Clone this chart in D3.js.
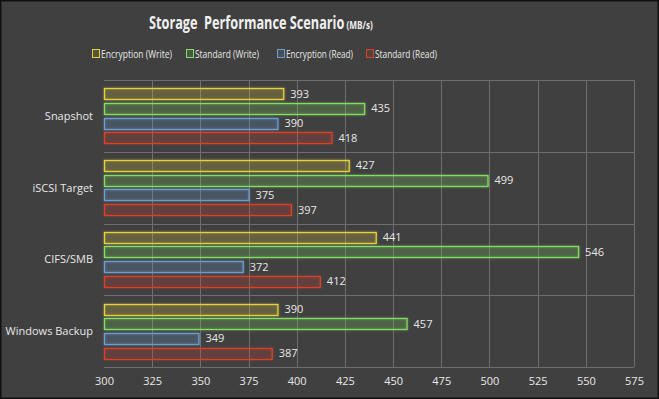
<!DOCTYPE html>
<html>
<head>
<meta charset="utf-8">
<script src="https://cdn.jsdelivr.net/npm/d3@7"></script>
<style>
  html, body { margin: 0; padding: 0; background: #3f3f3f; }
  svg { display: block; }
  text { font-family: "Open Sans", "DejaVu Sans", sans-serif; }
</style>
</head>
<body>
<div id="chart"></div>
<script>
// Data
const categories = ["Snapshot", "iSCSI Target", "CIFS/SMB", "Windows Backup"];
const seriesNames = ["Encryption (Write)", "Standard (Write)", "Encryption (Read)", "Standard (Read)"];
const encWrite = [393, 427, 441, 390];
const stdWrite = [435, 499, 546, 457];
const encRead = [390, 375, 372, 349];
const stdRead = [418, 397, 412, 387];
const xTicks = [300, 325, 350, 375, 400, 425, 450, 475, 500, 525, 550, 575];

const seriesColors = ["#e6d33c", "#82e060", "#6a9fd6", "#d8432c"];
const seriesValues = [encWrite, stdWrite, encRead, stdRead];

const W = 659, H = 399;
const plot = { left: 104, right: 634, top: 80, bottom: 367 };

const svg = d3.select("#chart").append("svg")
  .attr("width", W)
  .attr("height", H);

// glow filter
const defs = svg.append("defs");
const glow = defs.append("filter").attr("id", "glow")
  .attr("x", "-10%").attr("y", "-60%").attr("width", "120%").attr("height", "220%");
glow.append("feGaussianBlur").attr("in", "SourceGraphic").attr("stdDeviation", 1.3).attr("result", "blur");
glow.append("feComponentTransfer").attr("in", "blur").attr("result", "soft")
  .append("feFuncA").attr("type", "linear").attr("slope", 0.6);
const merge = glow.append("feMerge");
merge.append("feMergeNode").attr("in", "soft");
merge.append("feMergeNode").attr("in", "SourceGraphic");

// background + frame
svg.append("rect")
  .attr("x", 0.5).attr("y", 0.5)
  .attr("width", W - 1).attr("height", H - 1)
  .attr("fill", "#404040")
  .attr("stroke", "#111").attr("stroke-width", 2);

// Scales
const x = d3.scaleLinear().domain([300, 575]).range([plot.left, plot.right]);
const y = d3.scaleBand().domain(categories).range([plot.top, plot.bottom]);
const yInner = d3.scaleBand().domain(seriesNames)
  .range([0, y.bandwidth()]).paddingInner(0.25).paddingOuter(0.56);

// Grid
const grid = svg.append("g").attr("stroke", "#6e6e6e").attr("stroke-width", 1);
grid.selectAll("line.v")
  .data(xTicks.slice(1))
  .join("line")
  .attr("class", "v")
  .attr("x1", d => Math.round(x(d)) + 0.5).attr("x2", d => Math.round(x(d)) + 0.5)
  .attr("y1", plot.top).attr("y2", plot.bottom);
grid.selectAll("line.h")
  .data(categories.concat(["end"]))
  .join("line")
  .attr("class", "h")
  .attr("x1", plot.left).attr("x2", plot.right)
  .attr("y1", (d, i) => Math.round(i < categories.length ? y(d) : plot.bottom) + 0.5)
  .attr("y2", (d, i) => Math.round(i < categories.length ? y(d) : plot.bottom) + 0.5);

// Bars
const rows = [];
categories.forEach((c, ci) => {
  seriesNames.forEach((s, si) => {
    rows.push({ cat: c, series: s, value: seriesValues[si][ci], color: seriesColors[si] });
  });
});

const barG = svg.append("g");
barG.selectAll("rect")
  .data(rows)
  .join("rect")
  .attr("x", x(300) + 0.5)
  .attr("y", d => Math.round(y(d.cat) + yInner(d.series)) + 0.5)
  .attr("width", d => x(d.value) - x(300))
  .attr("height", Math.round(yInner.bandwidth()))
  .attr("fill", d => d.color)
  .attr("fill-opacity", 0.15)
  .attr("stroke", d => d.color)
  .attr("stroke-width", 1.2)
  .attr("filter", "url(#glow)");

// Value labels
svg.append("g").selectAll("text")
  .data(rows)
  .join("text")
  .attr("x", d => x(d.value) + 7)
  .attr("y", d => y(d.cat) + yInner(d.series) + yInner.bandwidth() / 2)
  .attr("dy", "0.36em")
  .attr("fill", "#e8e8e8")
  .attr("font-size", 11)
  .text(d => d.value);

// Category labels
svg.append("g").selectAll("text")
  .data(categories)
  .join("text")
  .attr("x", 93)
  .attr("y", d => y(d) + y.bandwidth() / 2)
  .attr("dy", "0.36em")
  .attr("text-anchor", "end")
  .attr("fill", "#e8e8e8")
  .attr("font-size", 11)
  .text(d => d);

// X axis tick labels
const xAxis = svg.append("g")
  .attr("transform", `translate(0,${plot.bottom})`)
  .call(d3.axisBottom(x).tickValues(xTicks).tickSize(0).tickPadding(10));
xAxis.select(".domain").remove();
xAxis.selectAll("text")
  .attr("fill", "#e8e8e8")
  .attr("font-size", 11)
  .attr("font-family", "\"Open Sans\", sans-serif");

// Title (one text, squeezed horizontally to the reference's narrow face)
const title = svg.append("text")
  .attr("fill", "#f0f0f0")
  .attr("font-weight", "bold")
  .style("white-space", "pre");
title.append("tspan").attr("font-size", 17).text("Storage  Performance Scenario");
title.append("tspan").attr("font-size", 11).text(" (MB/s)");
const titleW = title.node().getComputedTextLength();
title.attr("transform", `translate(149,29) scale(${224 / titleW},1)`);

// Legend
const legendX = [92, 186, 277, 366];
const legendW = [71, 64, 67, 62];
const legend = svg.append("g").selectAll("g")
  .data(seriesNames)
  .join("g")
  .attr("transform", (d, i) => `translate(${legendX[i]},49)`);
legend.append("rect")
  .attr("x", 0.5).attr("y", 0.5)
  .attr("width", 7).attr("height", 8)
  .attr("fill", (d, i) => seriesColors[i])
  .attr("fill-opacity", 0.15)
  .attr("stroke", (d, i) => seriesColors[i]);
legend.append("text")
  .attr("x", 9)
  .attr("y", 5)
  .attr("dy", "0.36em")
  .attr("fill", "#e8e8e8")
  .attr("font-size", 11.5)
  .attr("textLength", (d, i) => legendW[i])
  .attr("lengthAdjust", "spacingAndGlyphs")
  .text(d => d);
</script>
</body>
</html>
